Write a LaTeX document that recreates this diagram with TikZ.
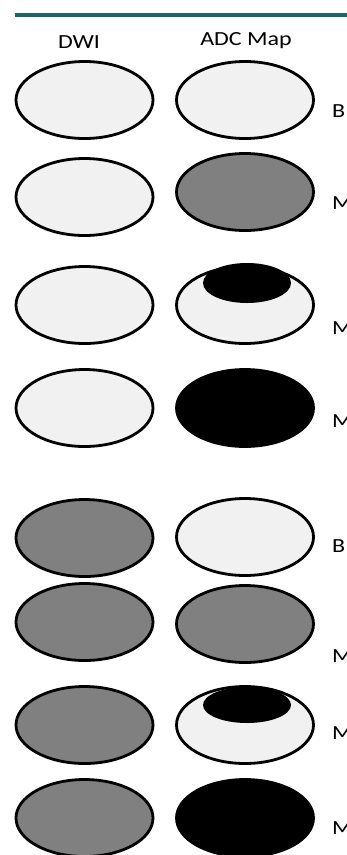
\documentclass[tikz,border=0pt]{standalone}
\usepackage{fontspec}
\setmainfont{Carlito}
\usetikzlibrary{shapes.geometric}
\definecolor{teal1}{HTML}{1A6663}
\definecolor{lightg}{HTML}{F1F1F1}
\definecolor{midg}{HTML}{808080}
\tikzset{
  oval/.style={ellipse, draw=black, line width=2.8pt, inner sep=0pt, minimum width=137pt, minimum height=77pt},
  lite/.style={oval, fill=lightg},
  mid/.style={oval, fill=midg},
  dark/.style={oval, fill=black},
  spot/.style={ellipse, fill=black, draw=none, inner sep=0pt, minimum width=88pt, minimum height=40pt},
  hdr/.style={font=\fontsize{20}{22}\selectfont, xscale=1.2, anchor=base, inner sep=0pt},
  lab/.style={font=\fontsize{20}{22}\selectfont, xscale=1.2, anchor=base west, inner sep=0pt}
}
\begin{document}
\begin{tikzpicture}[x=1pt,y=-1pt]
\useasboundingbox (0,0) rectangle (347,855);
\clip (0,0) rectangle (347,855);
\fill[white] (0,0) rectangle (347,855);
\coordinate (t1) at (15,15);
\coordinate (t2) at (347,15);
\draw[teal1, line width=4pt] (t1) -- (t2);
\node[hdr] (h1) at (79,48) {DWI};
\node[hdr] (h2) at (246,45) {ADC Map};
% row 1
\node[lite] (l1) at (84.5,100) {};
\node[lite] (r1) at (245,100) {};
\node[lab] (b1) at (332,117) {B};
% row 2
\node[lite] (l2) at (84.5,197) {};
\node[mid] (r2) at (245,192) {};
\node[lab] (b2) at (332,209) {M};
% row 3
\node[lite] (l3) at (84.5,305) {};
\node[lite] (r3) at (245,305) {};
\node[spot] (s3) at (247,283) {};
\node[lab] (b3) at (332,334) {M};
% row 4
\node[lite] (l4) at (84.5,408) {};
\node[dark] (r4) at (245,408) {};
\node[lab] (b4) at (332,427) {M};
% row 5
\node[mid] (l5) at (84.5,538) {};
\node[lite] (r5) at (245,537) {};
\node[lab] (b5) at (332,552) {B};
% row 6
\node[mid] (l6) at (84.5,622) {};
\node[mid] (r6) at (245,624) {};
\node[lab] (b6) at (332,662) {M};
% row 7
\node[mid] (l7) at (84.5,725) {};
\node[lite] (r7) at (245,725) {};
\node[spot, minimum height=36pt] (s7) at (247,705) {};
\node[lab] (b7) at (332,739) {M};
% row 8
\node[mid] (l8) at (84.5,818) {};
\node[dark] (r8) at (245,818) {};
\node[lab] (b8) at (332,834) {M};
\end{tikzpicture}
\end{document}
